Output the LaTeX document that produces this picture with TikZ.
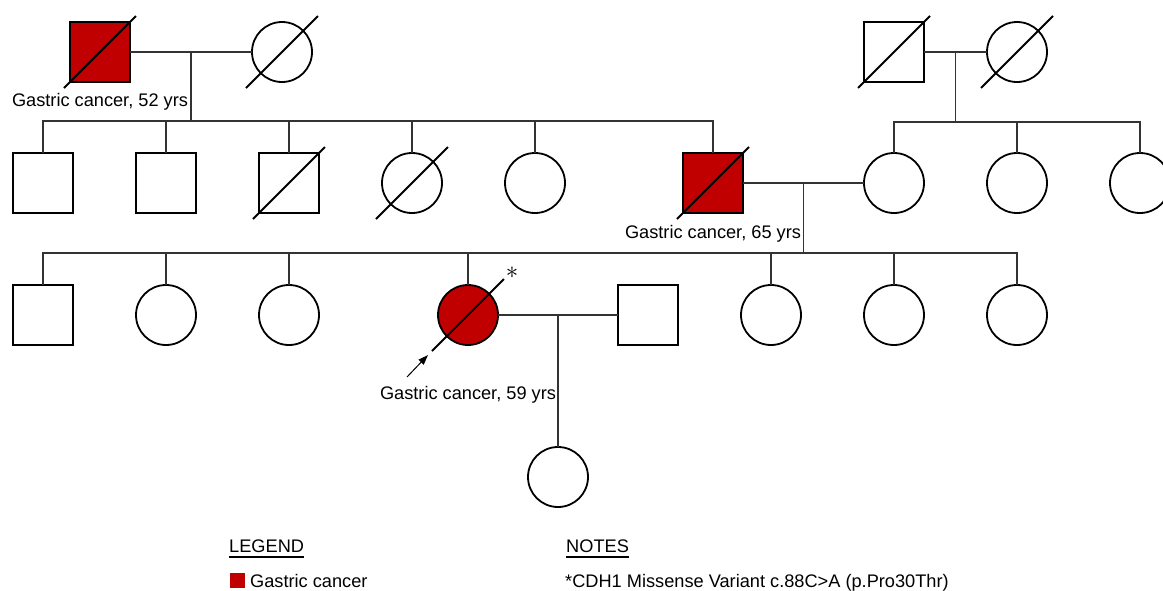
\documentclass[tikz,border=0pt]{standalone}
\usepackage{fontspec}
\setmainfont{Liberation Sans}
\usetikzlibrary{positioning, shapes, arrows.meta}
\definecolor{cancer}{HTML}{C00000}
\newcommand{\deadmark}[1]{\draw[slash] ([shift={(-36,36)}]#1.center) -- ([shift={(36,-36)}]#1.center);}

\begin{document}
\begin{tikzpicture}[x=1pt, y=-1pt, node distance=63pt,
  every node/.style={font=\fontsize{18.2}{22}\selectfont},
  male/.style={draw, rectangle, line width=1.8pt, minimum size=60pt, inner sep=0pt, outer sep=0pt},
  female/.style={draw, circle, line width=1.8pt, minimum size=60pt, inner sep=0pt, outer sep=0pt},
  affected/.style={fill=cancer},
  slash/.style={line width=1.8pt},
  rel/.style={line width=1.1pt, black!80},
  note/.style={inner sep=0pt}]
\useasboundingbox (0,0) rectangle (1163,590);

% grandparents
\node[male, affected] (gf) at (100,52) {};
\node[female] (gm) at (282,52) {};
\node[male] (mgf) at (894,52) {};
\node[female, right=of mgf] (mgm) {};

% second generation
\node[male] (s1) at (43,183) {};
\node[male, right=of s1] (s2) {};
\node[male, right=of s2] (s3) {};
\node[female, right=of s3] (s4) {};
\node[female, right=of s4] (s5) {};
\node[male, affected] (fa) at (713,183) {};
\node[female] (mo) at (894,183) {};
\node[female, right=of mo] (a1) {};
\node[female, right=of a1] (a2) {};

% third generation
\node[male] (c1) at (43,315) {};
\node[female, right=of c1] (c2) {};
\node[female, right=of c2] (c3) {};
\node[female, affected] (pro) at (468,315) {};
\node[male] (sp) at (648,315) {};
\node[female, right=of sp] (c5) {};
\node[female, right=of c5] (c6) {};
\node[female, right=of c6] (c7) {};

% fourth generation
\node[female] (gd) at (558,477) {};

% relationship lines
\draw[rel] (gf) -- coordinate[midway] (m1) (gm);
\draw[rel] (m1) -- ++(0,69) coordinate (j1);
\draw[rel] (s1.north) |- (j1) -| (fa.north);
\foreach \k in {s2,s3,s4,s5} \draw[rel] (\k.north) -- (\k.north |- j1);

\draw[rel] (mgf) -- coordinate[midway] (m2) (mgm);
\draw[rel] (m2) -- ++(0,70) coordinate (j2);
\draw[rel] (mo.north) |- (j2) -| (a2.north);
\draw[rel] (a1.north) -- (a1.north |- j2);

\draw[rel] (fa) -- coordinate[midway] (m3) (mo);
\draw[rel] (m3) -- ++(0,70) coordinate (j3);
\draw[rel] (c1.north) |- (j3) -| (c7.north);
\foreach \k in {c2,c3,pro,c5,c6} \draw[rel] (\k.north) -- (\k.north |- j3);

\draw[rel] (pro) -- coordinate[midway] (m4) (sp);
\draw[rel] (m4) -- (m4 |- gd.north);

% deceased
\deadmark{gf} \deadmark{gm} \deadmark{mgf} \deadmark{mgm}
\deadmark{s3} \deadmark{s4} \deadmark{fa} \deadmark{pro}

% proband
\node[inner sep=0pt, font=\fontsize{30}{32}\selectfont] (star) at (512,273) {$\ast$};
\coordinate (ptail) at (407,377);
\coordinate (phead) at (428,355);
\draw[-{Triangle[length=10pt,width=7pt]}, line width=1pt] (ptail) -- (phead);

% ages
\node[note, below=11pt of gf] (l52) {Gastric cancer, 52 yrs};
\node[note, below=12pt of fa] (l65) {Gastric cancer, 65 yrs};
\node[note, below=41pt of pro] (l59) {Gastric cancer, 59 yrs};

% legend and notes
\node[note, anchor=base west] (legend) at (229,552) {LEGEND};
\draw[line width=1.5pt] ([yshift=-5pt]legend.base west) -- ([yshift=-5pt]legend.base east);
\node[fill=cancer, minimum size=15pt, inner sep=0pt] (legbox) at (237,580) {};
\node[note, anchor=base west] (legtext) at (250,587) {Gastric cancer};
\node[note, anchor=base west] (notes) at (566,552) {NOTES};
\draw[line width=1.5pt] ([yshift=-5pt]notes.base west) -- ([yshift=-5pt]notes.base east);
\node[note, anchor=base west] (cdh) at (565,587) {*CDH1 Missense Variant c.88C>A (p.Pro30Thr)};
\end{tikzpicture}
\end{document}
